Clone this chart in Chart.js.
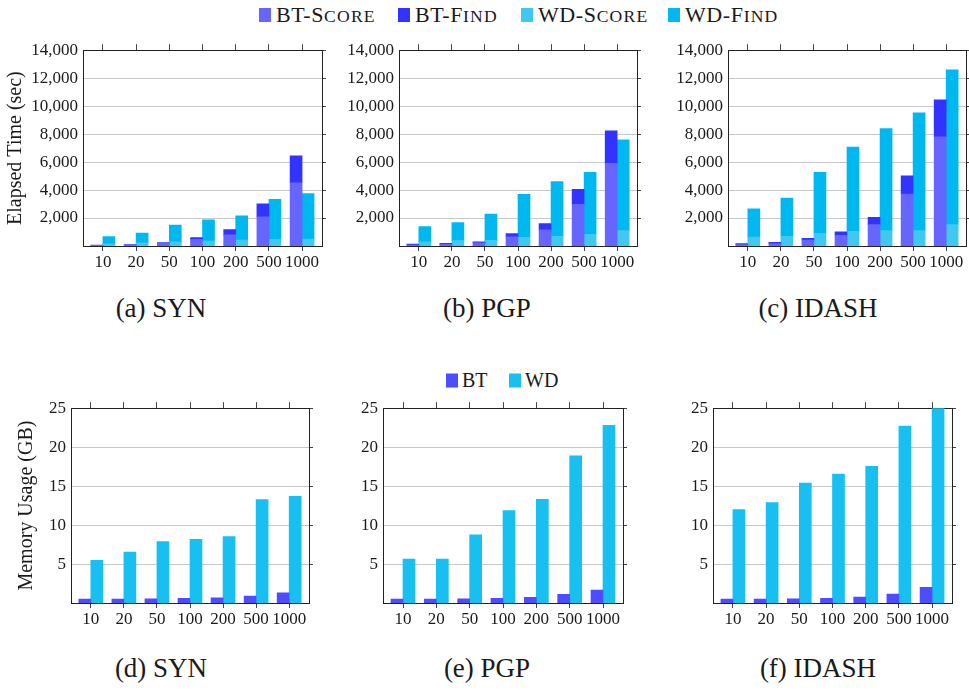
<!DOCTYPE html>
<html><head><meta charset="utf-8">
<script src="https://cdn.jsdelivr.net/npm/chart.js@4.4.0/dist/chart.umd.min.js"></script>
<style>
html,body{margin:0;padding:0;background:#fff;}
#wrap{position:relative;width:969px;height:691px;overflow:hidden;font-family:'Liberation Serif','DejaVu Serif',serif;color:#1a1a1a;}
canvas{position:absolute;}
.cap{position:absolute;font-size:27px;transform:translate(-50%,-50%);white-space:nowrap;}
.leg{position:absolute;display:flex;align-items:center;font-size:20px;white-space:nowrap;transform:translateY(-50%);}
.leg i{display:inline-block;width:12px;height:14px;margin-right:4px;}
.leg.big{font-size:22px;letter-spacing:0.6px;}
.leg.big i{margin-right:5px;}
.sc{font-size:0.8em;text-transform:uppercase;letter-spacing:1.2px;}
</style></head><body><div id="wrap"></div>
<script>
// ---------- data ----------
const categories = ['10','20','50','100','200','500','1000'];
const timeTickValues = [2000,4000,6000,8000,10000,12000,14000];
const memTickValues = [5,10,15,20,25];

// Elapsed time (sec) — SYN
const synBtScore = [50, 70, 200, 470, 800, 2090, 4520];
const synBtFind  = [20, 30, 45, 140, 380, 920, 1930];
const synWdScore = [160, 235, 300, 350, 420, 470, 490];
const synWdFind  = [520, 685, 1200, 1530, 1745, 2870, 3250];
// PGP
const pgpBtScore = [70, 120, 235, 660, 1150, 2965, 5900];
const pgpBtFind  = [70, 70, 65, 230, 450, 1085, 2335];
const pgpWdScore = [300, 380, 400, 610, 680, 820, 1100];
const pgpWdFind  = [1090, 1290, 1880, 3080, 3930, 4450, 6500];
// IDASH
const idaBtScore = [95, 165, 425, 750, 1530, 3720, 7810];
const idaBtFind  = [70, 95, 115, 260, 520, 1290, 2640];
const idaWdScore = [635, 680, 895, 1035, 1105, 1105, 1530];
const idaWdFind  = [2025, 2755, 4375, 6045, 7295, 8425, 11060];

// Memory usage (GB)
const synMemBt = [0.5, 0.5, 0.55, 0.6, 0.65, 0.9, 1.3];
const synMemWd = [5.47, 6.52, 7.87, 8.16, 8.54, 13.26, 13.68];
const pgpMemBt = [0.5, 0.5, 0.55, 0.6, 0.72, 1.1, 1.65];
const pgpMemWd = [5.64, 5.64, 8.75, 11.87, 13.3, 18.9, 22.8];
const idaMemBt = [0.5, 0.5, 0.55, 0.6, 0.75, 1.15, 2.0];
const idaMemWd = [12.0, 12.9, 15.4, 16.54, 17.55, 22.7, 25.0];

const timeLegend = ['BT-Score','BT-Find','WD-Score','WD-Find'];
const memLegend = ['BT','WD'];
const captions = ['(a) SYN','(b) PGP','(c) IDASH','(d) SYN','(e) PGP','(f) IDASH'];

// ---------- styles ----------
const FONT = "'Liberation Serif','DejaVu Serif',serif";
const C_BT_SCORE = '#6666ff', C_BT_FIND = '#3333ff', C_WD_SCORE = '#40c8f0', C_WD_FIND = '#00b8f0';
const C_MEM_BT = '#4d4dff', C_MEM_WD = '#17c0f0';

const wrap = document.getElementById('wrap');
const pts = (arr) => arr.map((v, i) => ({x: i, y: v}));

function timeSets(bs, bf, ws, wf) {
  return [
    {label: timeLegend[0], data: pts(bs), stack: 'BT', backgroundColor: C_BT_SCORE},
    {label: timeLegend[1], data: pts(bf), stack: 'BT', backgroundColor: C_BT_FIND},
    {label: timeLegend[2], data: pts(ws), stack: 'WD', backgroundColor: C_WD_SCORE},
    {label: timeLegend[3], data: pts(wf), stack: 'WD', backgroundColor: C_WD_FIND}
  ];
}
function memSets(b, w) {
  return [
    {label: memLegend[0], data: pts(b), backgroundColor: C_MEM_BT},
    {label: memLegend[1], data: pts(w), backgroundColor: C_MEM_WD}
  ];
}

const panels = [
  {canvasLeft: 0,   L: 83,  R: 322, T: 47,  B: 246, yMax: 14000, yTicks: timeTickValues, stacked: true,  title: 'Elapsed Time (sec)', titlePad: 4, sets: timeSets(synBtScore, synBtFind, synWdScore, synWdFind)},
  {canvasLeft: 330, L: 399, R: 637, T: 47,  B: 246, yMax: 14000, yTicks: timeTickValues, stacked: true,  sets: timeSets(pgpBtScore, pgpBtFind, pgpWdScore, pgpWdFind)},
  {canvasLeft: 660, L: 728, R: 966, T: 47,  B: 246, yMax: 14000, yTicks: timeTickValues, stacked: true,  sets: timeSets(idaBtScore, idaBtFind, idaWdScore, idaWdFind)},
  {canvasLeft: 0,   L: 71,  R: 309, T: 405, B: 603, yMax: 25, yTicks: memTickValues, stacked: false, title: 'Memory Usage (GB)', titlePad: 15, sets: memSets(synMemBt, synMemWd)},
  {canvasLeft: 330, L: 383, R: 623, T: 405, B: 603, yMax: 25, yTicks: memTickValues, stacked: false, sets: memSets(pgpMemBt, pgpMemWd)},
  {canvasLeft: 660, L: 713, R: 952, T: 405, B: 603, yMax: 25, yTicks: memTickValues, stacked: false, sets: memSets(idaMemBt, idaMemWd)}
];

function makeChart(p) {
  const padL = p.L - p.canvasLeft, padT = 12, padR = 8, padB = 36;
  const cw = (p.R - p.L) + padL + padR;
  const ch = (p.B - p.T) + padT + padB;
  const cv = document.createElement('canvas');
  cv.width = cw; cv.height = ch;
  cv.style.left = p.canvasLeft + 'px'; cv.style.top = (p.T - padT) + 'px';
  cv.style.width = cw + 'px'; cv.style.height = ch + 'px';
  wrap.appendChild(cv);
  const xTicks = (s) => { s.ticks = categories.map((_, i) => ({value: i})); };
  const yTicks = (s) => { s.ticks = p.yTicks.map(v => ({value: v})); };
  new Chart(cv, {
    type: 'bar',
    data: {datasets: p.sets},
    options: {
      responsive: false, animation: false, devicePixelRatio: 1,
      layout: {padding: 0},
      datasets: {bar: {barThickness: 12, borderWidth: 0}},
      plugins: {legend: {display: false}, tooltip: {enabled: false}, title: {display: false}},
      scales: {
        x: {type: 'linear', position: 'bottom', min: -0.6, max: 6.6, offset: false,
            afterBuildTicks: xTicks, afterFit: (s) => { s.height = padB; },
            grid: {drawOnChartArea: false, drawTicks: true, tickLength: 5, color: '#444', offset: false},
            border: {display: true, color: '#222', width: 1},
            ticks: {padding: 1, color: '#1a1a1a', autoSkip: false, maxRotation: 0,
                    font: {family: FONT, size: 17}, callback: (v) => categories[v] ?? ''}},
        xTop: {type: 'linear', position: 'top', min: -0.6, max: 6.6, display: true, offset: false,
            afterBuildTicks: xTicks, afterFit: (s) => { s.height = padT; },
            grid: {drawOnChartArea: false, drawTicks: true, tickLength: 6, color: '#444', offset: false},
            border: {display: true, color: '#222', width: 1},
            ticks: {display: false}},
        y: {type: 'linear', position: 'left', min: 0, max: p.yMax, stacked: p.stacked,
            afterBuildTicks: yTicks, afterFit: (s) => { s.width = padL; },
            grid: {color: '#c8c8c8', drawTicks: false},
            border: {display: true, color: '#222', width: 1},
            ticks: {padding: 5, color: '#1a1a1a', font: {family: FONT, size: 17},
                    callback: (v) => v.toLocaleString('en-US')},
            title: p.title ? {display: true, text: p.title, color: '#1a1a1a',
                    font: {family: FONT, size: 20}, padding: {top: p.titlePad, bottom: 0}} : {display: false}},
        yRight: {type: 'linear', position: 'right', min: 0, max: p.yMax, display: true,
            afterBuildTicks: yTicks, afterFit: (s) => { s.width = padR; },
            grid: {drawOnChartArea: false, drawTicks: true, tickLength: 4, color: '#444'},
            border: {display: true, color: '#222', width: 1},
            ticks: {display: false}}
      }
    }
  });
}
panels.forEach(makeChart);

// ---------- legends & captions (HTML text) ----------
function legendItem(text, color, left, cy, smallCaps) {
  const d = document.createElement('div');
  d.className = smallCaps ? 'leg big' : 'leg';
  d.style.left = left + 'px'; d.style.top = cy + 'px';
  const i = document.createElement('i'); i.style.background = color;
  const s = document.createElement('span');
  if (smallCaps) {
    // capitals at full size, lower-case letters as small capitals
    const m = text.match(/^(.*?[A-Z])([a-z]+)$/);
    s.appendChild(document.createTextNode(m[1]));
    const sc = document.createElement('span'); sc.className = 'sc'; sc.textContent = m[2];
    s.appendChild(sc);
  } else {
    s.textContent = text;
  }
  d.appendChild(i); d.appendChild(s); wrap.appendChild(d);
}
const timeColors = [C_BT_SCORE, C_BT_FIND, C_WD_SCORE, C_WD_FIND];
const timeLegLeft = [259, 398, 521, 668];
timeLegend.forEach((t, k) => legendItem(t, timeColors[k], timeLegLeft[k], 15, true));
const memColors = [C_MEM_BT, C_MEM_WD];
const memLegLeft = [446, 509];
memLegend.forEach((t, k) => legendItem(t, memColors[k], memLegLeft[k], 380, false));

const capX = [161, 487, 818, 161, 487, 818];
const capY = [308, 308, 308, 668, 668, 668];
captions.forEach((t, k) => {
  const d = document.createElement('div');
  d.className = 'cap'; d.textContent = t;
  d.style.left = capX[k] + 'px'; d.style.top = capY[k] + 'px';
  wrap.appendChild(d);
});
</script>
</body></html>
